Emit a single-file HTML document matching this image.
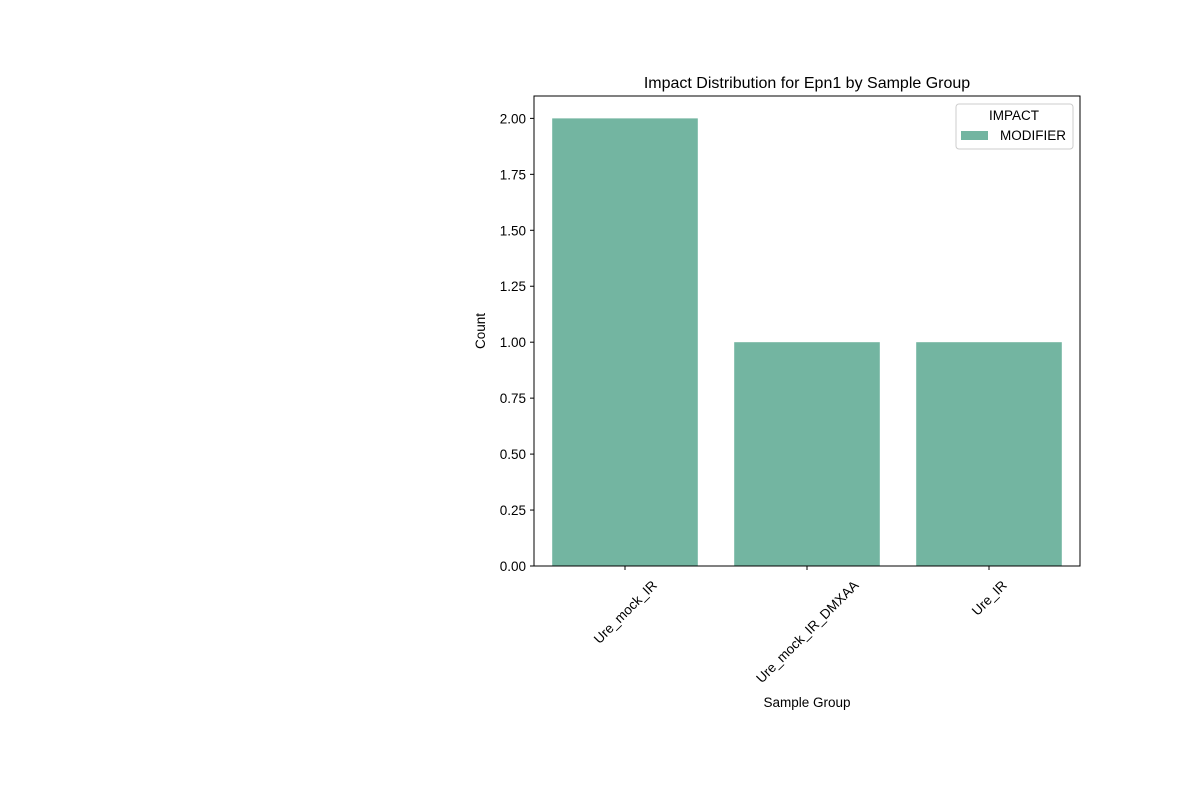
<!DOCTYPE html>
<html><head><meta charset="utf-8"><style>body{margin:0;background:#fff}svg{font-family:"Liberation Sans","DejaVu Sans",sans-serif}</style></head>
<body>
<svg id="chart" width="1200" height="800">
<rect width="1200" height="800" fill="#fff"/>
<g id="bars"></g>
<g id="yticks"></g>
<g id="xticks"></g>
<rect x="534" y="96" width="546" height="470" fill="none" stroke="#000" stroke-width="1"/>
<text x="807" y="88" text-anchor="middle" font-size="16">Impact Distribution for Epn1 by Sample Group</text>
<text x="807" y="707" text-anchor="middle" font-size="13.5">Sample Group</text>
<text transform="translate(485,331) rotate(-90)" text-anchor="middle" font-size="13.5">Count</text>
<g>
<rect x="956" y="104" width="117" height="45" rx="3" fill="#fff" fill-opacity="0.8" stroke="#ccc"/>
<text x="1014" y="120" text-anchor="middle" font-size="13.5">IMPACT</text>
<rect x="961" y="131" width="27" height="9" fill="#73b5a1"/>
<text x="1000" y="140" font-size="13.5">MODIFIER</text>
</g>
</svg>
<script>
const categories=["Ure_mock_IR","Ure_mock_IR_DMXAA","Ure_IR"];
const counts=[2,1,1];
const yTickValues=[0,0.25,0.5,0.75,1,1.25,1.5,1.75,2];
const NS="http://www.w3.org/2000/svg";
const x0=534,x1=1080,yB=566,yT=96,yMax=2.1;
const band=(x1-x0)/categories.length;
const xc=i=>x0+band*(i+0.5);
const y=v=>yB-(v/yMax)*(yB-yT);
function mk(t,a){const e=document.createElementNS(NS,t);for(const k in a)e.setAttribute(k,a[k]);return e;}
const gb=document.getElementById('bars');
counts.forEach((v,i)=>{const w=band*0.8;const r=mk('rect',{x:xc(i)-w/2,y:y(v),width:w,height:yB-y(v),fill:'#73b5a1'});


gb.appendChild(r);});
const gy=document.getElementById('yticks');
yTickValues.forEach(v=>{const l=mk('line',{x1:x0-4,x2:x0,y1:y(v),y2:y(v),stroke:'#000'});


gy.appendChild(l);
const t=mk('text',{x:x0-8,y:y(v)+5,'text-anchor':'end','font-size':'13.5'});t.textContent=v.toFixed(2);


gy.appendChild(t);});
const gx=document.getElementById('xticks');
categories.forEach((c,i)=>{const l=mk('line',{x1:xc(i),x2:xc(i),y1:yB,y2:yB+4,stroke:'#000'});


gx.appendChild(l);
const t=mk('text',{'text-anchor':'middle','font-size':'13.5'});t.textContent=c;


gx.appendChild(t);
const len=t.getComputedTextLength();
const h=(len+13)*0.7071;
const cy=yB+12+h/2;
t.setAttribute('transform','translate('+xc(i)+','+cy+') rotate(-45) translate(0,5)');});
</script>
</body></html>
